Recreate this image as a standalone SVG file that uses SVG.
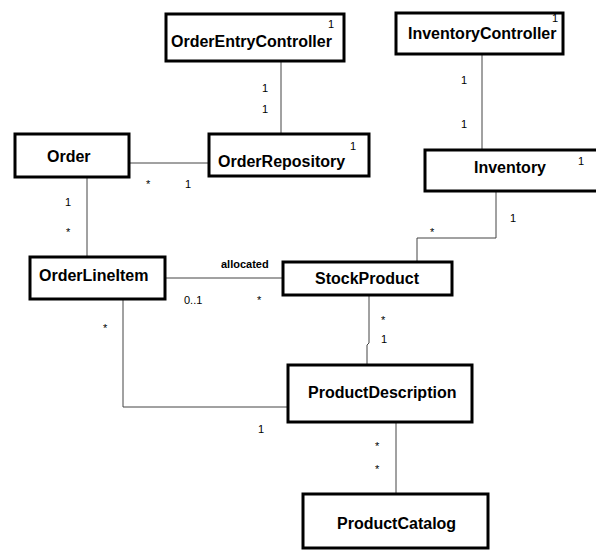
<svg xmlns="http://www.w3.org/2000/svg" width="596" height="550" viewBox="0 0 596 550">
  <style>
    .box { fill: #ffffff; stroke: #000000; stroke-width: 3; }
    .name { font-family: "Liberation Sans", Arial, sans-serif; font-size: 16px; font-weight: bold; fill: #000000; }
    .mult { font-family: "Liberation Sans", Arial, sans-serif; font-size: 11px; fill: #000000; }
    .role { font-family: "Liberation Sans", Arial, sans-serif; font-size: 11px; font-weight: bold; fill: #000000; }
    .link { fill: none; stroke: #444444; stroke-width: 1; }
  </style>
  <rect width="596" height="550" fill="#ffffff"/>

  <!-- associations -->
  <g id="connectors">
    <line class="link" x1="281" y1="62" x2="281" y2="133"/>
    <line class="link" x1="130" y1="163" x2="208" y2="163"/>
    <line class="link" x1="87" y1="178" x2="87" y2="256"/>
    <line class="link" x1="166" y1="278" x2="282" y2="278"/>
    <polyline class="link" points="369,296 369,343 367,345 367,364"/>
    <polyline class="link" points="123,300 123,407 287,407"/>
    <line class="link" x1="396" y1="423" x2="396" y2="493"/>
    <line class="link" x1="482" y1="55" x2="482" y2="149"/>
    <polyline class="link" points="496,192 496,238 417,238 417,261"/>

    <text class="mult" x="262" y="92">1</text>
    <text class="mult" x="262" y="113">1</text>
    <text class="mult" x="146" y="188">*</text>
    <text class="mult" x="185" y="188">1</text>
    <text class="mult" x="65" y="206">1</text>
    <text class="mult" x="66" y="236">*</text>
    <text class="role" x="221" y="268">allocated</text>
    <text class="mult" x="184" y="304">0..1</text>
    <text class="mult" x="257" y="304">*</text>
    <text class="mult" x="381" y="324">*</text>
    <text class="mult" x="381" y="343">1</text>
    <text class="mult" x="103" y="332">*</text>
    <text class="mult" x="258" y="433">1</text>
    <text class="mult" x="375" y="450">*</text>
    <text class="mult" x="375" y="473">*</text>
    <text class="mult" x="461" y="84">1</text>
    <text class="mult" x="461" y="128">1</text>
    <text class="mult" x="510" y="222">1</text>
    <text class="mult" x="430" y="236">*</text>
  </g>

  <g id="OrderEntryController">
    <rect class="box" x="166" y="14" width="178" height="47"/>
    <text class="name" x="171" y="47">OrderEntryController</text>
    <text class="mult" x="328" y="28">1</text>
  </g>

  <g id="InventoryController">
    <rect class="box" x="396" y="13" width="167" height="41"/>
    <text class="name" x="408" y="39">InventoryController</text>
    <text class="mult" x="552" y="22">1</text>
  </g>

  <g id="Order">
    <rect class="box" x="15" y="134" width="114" height="43"/>
    <text class="name" x="47" y="162">Order</text>
  </g>

  <g id="OrderRepository">
    <rect class="box" x="209" y="134" width="160" height="42"/>
    <text class="name" x="218" y="167">OrderRepository</text>
    <text class="mult" x="350" y="150">1</text>
  </g>

  <g id="Inventory">
    <rect class="box" x="425" y="150" width="174" height="41"/>
    <text class="name" x="474" y="173">Inventory</text>
    <text class="mult" x="578" y="165">1</text>
  </g>

  <g id="OrderLineItem">
    <rect class="box" x="30" y="257" width="135" height="42"/>
    <text class="name" x="39" y="281">OrderLineItem</text>
  </g>

  <g id="StockProduct">
    <rect class="box" x="283" y="262" width="169" height="33"/>
    <text class="name" x="315" y="284">StockProduct</text>
  </g>

  <g id="ProductDescription">
    <rect class="box" x="288" y="365" width="184" height="57"/>
    <text class="name" x="308" y="398">ProductDescription</text>
  </g>

  <g id="ProductCatalog">
    <rect class="box" x="303" y="494" width="185" height="54"/>
    <text class="name" x="337" y="529">ProductCatalog</text>
  </g>
</svg>
